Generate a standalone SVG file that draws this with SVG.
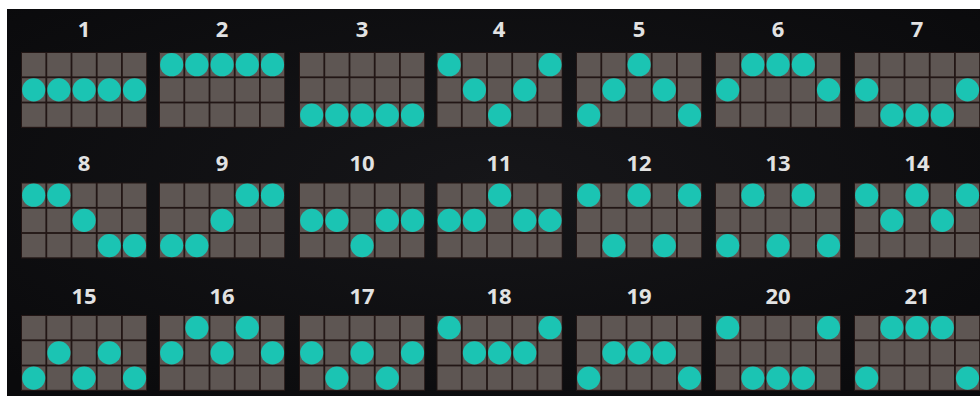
<svg xmlns="http://www.w3.org/2000/svg" xmlns:xlink="http://www.w3.org/1999/xlink" width="980" height="396" viewBox="0 0 980 396">
<style>
.lbl{font-family:"Open Sans","Liberation Sans",sans-serif;font-weight:700;font-size:22px;fill:#e2e2e2;text-anchor:middle}
.c{fill:#5e5653}
.d{fill:#1bc4b3}
</style>
<defs>
<radialGradient id="bg" cx="0.5" cy="0.45" r="0.7">
<stop offset="0" stop-color="#161619"/>
<stop offset="1" stop-color="#0a0a0c"/>
</radialGradient>
<g id="grid">
<rect x="-1" y="-1" width="126" height="76" fill="#221615"/>
<rect class="c" x="0" y="0" width="23.4" height="23.4"/><rect class="c" x="25.2" y="0" width="23.4" height="23.4"/><rect class="c" x="50.4" y="0" width="23.4" height="23.4"/><rect class="c" x="75.6" y="0" width="23.4" height="23.4"/><rect class="c" x="100.8" y="0" width="23.4" height="23.4"/>
<rect class="c" x="0" y="25.2" width="23.4" height="23.4"/><rect class="c" x="25.2" y="25.2" width="23.4" height="23.4"/><rect class="c" x="50.4" y="25.2" width="23.4" height="23.4"/><rect class="c" x="75.6" y="25.2" width="23.4" height="23.4"/><rect class="c" x="100.8" y="25.2" width="23.4" height="23.4"/>
<rect class="c" x="0" y="50.4" width="23.4" height="23.4"/><rect class="c" x="25.2" y="50.4" width="23.4" height="23.4"/><rect class="c" x="50.4" y="50.4" width="23.4" height="23.4"/><rect class="c" x="75.6" y="50.4" width="23.4" height="23.4"/><rect class="c" x="100.8" y="50.4" width="23.4" height="23.4"/>
</g>
</defs>
<rect x="0" y="0" width="980" height="396" fill="#ffffff"/>
<rect x="7" y="9" width="973" height="387" fill="url(#bg)"/>

<!-- Row 1 -->
<g id="line1"><text class="lbl" x="84" y="37">1</text><g transform="translate(22,53)"><use xlink:href="#grid"/>
<circle class="d" r="11.6" cx="11.7" cy="36.9"/><circle class="d" r="11.6" cx="36.9" cy="36.9"/><circle class="d" r="11.6" cx="62.1" cy="36.9"/><circle class="d" r="11.6" cx="87.3" cy="36.9"/><circle class="d" r="11.6" cx="112.5" cy="36.9"/></g></g>

<g id="line2"><text class="lbl" x="222" y="37">2</text><g transform="translate(160,53)"><use xlink:href="#grid"/>
<circle class="d" r="11.6" cx="11.7" cy="11.7"/><circle class="d" r="11.6" cx="36.9" cy="11.7"/><circle class="d" r="11.6" cx="62.1" cy="11.7"/><circle class="d" r="11.6" cx="87.3" cy="11.7"/><circle class="d" r="11.6" cx="112.5" cy="11.7"/></g></g>

<g id="line3"><text class="lbl" x="362" y="37">3</text><g transform="translate(300,53)"><use xlink:href="#grid"/>
<circle class="d" r="11.6" cx="11.7" cy="62.1"/><circle class="d" r="11.6" cx="36.9" cy="62.1"/><circle class="d" r="11.6" cx="62.1" cy="62.1"/><circle class="d" r="11.6" cx="87.3" cy="62.1"/><circle class="d" r="11.6" cx="112.5" cy="62.1"/></g></g>

<g id="line4"><text class="lbl" x="499" y="37">4</text><g transform="translate(437.5,53)"><use xlink:href="#grid"/>
<circle class="d" r="11.6" cx="11.7" cy="11.7"/><circle class="d" r="11.6" cx="36.9" cy="36.9"/><circle class="d" r="11.6" cx="62.1" cy="62.1"/><circle class="d" r="11.6" cx="87.3" cy="36.9"/><circle class="d" r="11.6" cx="112.5" cy="11.7"/></g></g>

<g id="line5"><text class="lbl" x="639" y="37">5</text><g transform="translate(577,53)"><use xlink:href="#grid"/>
<circle class="d" r="11.6" cx="11.7" cy="62.1"/><circle class="d" r="11.6" cx="36.9" cy="36.9"/><circle class="d" r="11.6" cx="62.1" cy="11.7"/><circle class="d" r="11.6" cx="87.3" cy="36.9"/><circle class="d" r="11.6" cx="112.5" cy="62.1"/></g></g>

<g id="line6"><text class="lbl" x="778" y="37">6</text><g transform="translate(716,53)"><use xlink:href="#grid"/>
<circle class="d" r="11.6" cx="11.7" cy="36.9"/><circle class="d" r="11.6" cx="36.9" cy="11.7"/><circle class="d" r="11.6" cx="62.1" cy="11.7"/><circle class="d" r="11.6" cx="87.3" cy="11.7"/><circle class="d" r="11.6" cx="112.5" cy="36.9"/></g></g>

<g id="line7"><text class="lbl" x="917" y="37">7</text><g transform="translate(855,53)"><use xlink:href="#grid"/>
<circle class="d" r="11.6" cx="11.7" cy="36.9"/><circle class="d" r="11.6" cx="36.9" cy="62.1"/><circle class="d" r="11.6" cx="62.1" cy="62.1"/><circle class="d" r="11.6" cx="87.3" cy="62.1"/><circle class="d" r="11.6" cx="112.5" cy="36.9"/></g></g>

<!-- Row 2 -->
<g id="line8"><text class="lbl" x="84" y="171">8</text><g transform="translate(22,183.5)"><use xlink:href="#grid"/>
<circle class="d" r="11.6" cx="11.7" cy="11.7"/><circle class="d" r="11.6" cx="36.9" cy="11.7"/><circle class="d" r="11.6" cx="62.1" cy="36.9"/><circle class="d" r="11.6" cx="87.3" cy="62.1"/><circle class="d" r="11.6" cx="112.5" cy="62.1"/></g></g>

<g id="line9"><text class="lbl" x="222" y="171">9</text><g transform="translate(160,183.5)"><use xlink:href="#grid"/>
<circle class="d" r="11.6" cx="11.7" cy="62.1"/><circle class="d" r="11.6" cx="36.9" cy="62.1"/><circle class="d" r="11.6" cx="62.1" cy="36.9"/><circle class="d" r="11.6" cx="87.3" cy="11.7"/><circle class="d" r="11.6" cx="112.5" cy="11.7"/></g></g>

<g id="line10"><text class="lbl" x="362" y="171">10</text><g transform="translate(300,183.5)"><use xlink:href="#grid"/>
<circle class="d" r="11.6" cx="11.7" cy="36.9"/><circle class="d" r="11.6" cx="36.9" cy="36.9"/><circle class="d" r="11.6" cx="62.1" cy="62.1"/><circle class="d" r="11.6" cx="87.3" cy="36.9"/><circle class="d" r="11.6" cx="112.5" cy="36.9"/></g></g>

<g id="line11"><text class="lbl" x="499" y="171">11</text><g transform="translate(437.5,183.5)"><use xlink:href="#grid"/>
<circle class="d" r="11.6" cx="11.7" cy="36.9"/><circle class="d" r="11.6" cx="36.9" cy="36.9"/><circle class="d" r="11.6" cx="62.1" cy="11.7"/><circle class="d" r="11.6" cx="87.3" cy="36.9"/><circle class="d" r="11.6" cx="112.5" cy="36.9"/></g></g>

<g id="line12"><text class="lbl" x="639" y="171">12</text><g transform="translate(577,183.5)"><use xlink:href="#grid"/>
<circle class="d" r="11.6" cx="11.7" cy="11.7"/><circle class="d" r="11.6" cx="36.9" cy="62.1"/><circle class="d" r="11.6" cx="62.1" cy="11.7"/><circle class="d" r="11.6" cx="87.3" cy="62.1"/><circle class="d" r="11.6" cx="112.5" cy="11.7"/></g></g>

<g id="line13"><text class="lbl" x="778" y="171">13</text><g transform="translate(716,183.5)"><use xlink:href="#grid"/>
<circle class="d" r="11.6" cx="11.7" cy="62.1"/><circle class="d" r="11.6" cx="36.9" cy="11.7"/><circle class="d" r="11.6" cx="62.1" cy="62.1"/><circle class="d" r="11.6" cx="87.3" cy="11.7"/><circle class="d" r="11.6" cx="112.5" cy="62.1"/></g></g>

<g id="line14"><text class="lbl" x="917" y="171">14</text><g transform="translate(855,183.5)"><use xlink:href="#grid"/>
<circle class="d" r="11.6" cx="11.7" cy="11.7"/><circle class="d" r="11.6" cx="36.9" cy="36.9"/><circle class="d" r="11.6" cx="62.1" cy="11.7"/><circle class="d" r="11.6" cx="87.3" cy="36.9"/><circle class="d" r="11.6" cx="112.5" cy="11.7"/></g></g>

<!-- Row 3 -->
<g id="line15"><text class="lbl" x="84" y="304">15</text><g transform="translate(22,316)"><use xlink:href="#grid"/>
<circle class="d" r="11.6" cx="11.7" cy="62.1"/><circle class="d" r="11.6" cx="36.9" cy="36.9"/><circle class="d" r="11.6" cx="62.1" cy="62.1"/><circle class="d" r="11.6" cx="87.3" cy="36.9"/><circle class="d" r="11.6" cx="112.5" cy="62.1"/></g></g>

<g id="line16"><text class="lbl" x="222" y="304">16</text><g transform="translate(160,316)"><use xlink:href="#grid"/>
<circle class="d" r="11.6" cx="11.7" cy="36.9"/><circle class="d" r="11.6" cx="36.9" cy="11.7"/><circle class="d" r="11.6" cx="62.1" cy="36.9"/><circle class="d" r="11.6" cx="87.3" cy="11.7"/><circle class="d" r="11.6" cx="112.5" cy="36.9"/></g></g>

<g id="line17"><text class="lbl" x="362" y="304">17</text><g transform="translate(300,316)"><use xlink:href="#grid"/>
<circle class="d" r="11.6" cx="11.7" cy="36.9"/><circle class="d" r="11.6" cx="36.9" cy="62.1"/><circle class="d" r="11.6" cx="62.1" cy="36.9"/><circle class="d" r="11.6" cx="87.3" cy="62.1"/><circle class="d" r="11.6" cx="112.5" cy="36.9"/></g></g>

<g id="line18"><text class="lbl" x="499" y="304">18</text><g transform="translate(437.5,316)"><use xlink:href="#grid"/>
<circle class="d" r="11.6" cx="11.7" cy="11.7"/><circle class="d" r="11.6" cx="36.9" cy="36.9"/><circle class="d" r="11.6" cx="62.1" cy="36.9"/><circle class="d" r="11.6" cx="87.3" cy="36.9"/><circle class="d" r="11.6" cx="112.5" cy="11.7"/></g></g>

<g id="line19"><text class="lbl" x="639" y="304">19</text><g transform="translate(577,316)"><use xlink:href="#grid"/>
<circle class="d" r="11.6" cx="11.7" cy="62.1"/><circle class="d" r="11.6" cx="36.9" cy="36.9"/><circle class="d" r="11.6" cx="62.1" cy="36.9"/><circle class="d" r="11.6" cx="87.3" cy="36.9"/><circle class="d" r="11.6" cx="112.5" cy="62.1"/></g></g>

<g id="line20"><text class="lbl" x="778" y="304">20</text><g transform="translate(716,316)"><use xlink:href="#grid"/>
<circle class="d" r="11.6" cx="11.7" cy="11.7"/><circle class="d" r="11.6" cx="36.9" cy="62.1"/><circle class="d" r="11.6" cx="62.1" cy="62.1"/><circle class="d" r="11.6" cx="87.3" cy="62.1"/><circle class="d" r="11.6" cx="112.5" cy="11.7"/></g></g>

<g id="line21"><text class="lbl" x="917" y="304">21</text><g transform="translate(855,316)"><use xlink:href="#grid"/>
<circle class="d" r="11.6" cx="11.7" cy="62.1"/><circle class="d" r="11.6" cx="36.9" cy="11.7"/><circle class="d" r="11.6" cx="62.1" cy="11.7"/><circle class="d" r="11.6" cx="87.3" cy="11.7"/><circle class="d" r="11.6" cx="112.5" cy="62.1"/></g></g>
</svg>
